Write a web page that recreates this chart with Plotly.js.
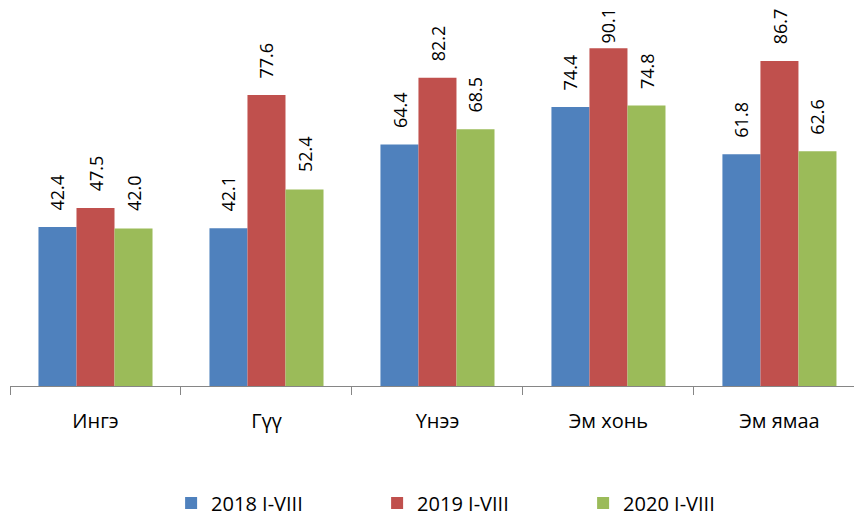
<!DOCTYPE html>
<html><head><meta charset="utf-8">
<script src="https://cdn.plot.ly/plotly-3.0.1.min.js"></script>
<style>html,body{margin:0;padding:0;background:#fff}#c{width:854px;height:518px}</style>
</head><body><div id="c"></div>
<script>
const categories = ["Ингэ", "Гүү", "Үнээ", "Эм хонь", "Эм ямаа"];
const seriesNames = ["2018 I-VIII", "2019 I-VIII", "2020 I-VIII"];
const values2018 = [42.4, 42.1, 64.4, 74.4, 61.8];
const values2019 = [47.5, 77.6, 82.2, 90.1, 86.7];
const values2020 = [42.0, 52.4, 68.5, 74.8, 62.6];
const colors = ["#4F81BD", "#C0504D", "#9BBB59"];
const font = "Open Sans, Liberation Sans, Arial, sans-serif";

const allValues = [values2018, values2019, values2020];
const traces = allValues.map((v, i) => ({
  type: "bar",
  name: seriesNames[i],
  x: categories,
  y: v,
  marker: {color: colors[i]},
  hoverinfo: "none"
}));

const H = 518, mT = 11, mB = 132, yMax = 100;
const plotH = H - mT - mB;
const pxPerUnit = plotH / yMax;
const labelLen = 35, gap = 15, minTop = 10;
const bargap = 0.333;
const barW = (1 - bargap) / 3;
const annotations = [];
allValues.forEach((v, i) => {
  v.forEach((d, j) => {
    // keep the label inside the chart: clamp its top edge
    const barTop = mT + (yMax - d) * pxPerUnit;
    let shift = gap;
    if (barTop - gap - labelLen < minTop) shift = Math.max(3, barTop - labelLen - minTop);
    annotations.push({
      x: j + (i - 1) * barW, y: d, xref: "x", yref: "y",
      text: d.toFixed(1), showarrow: false, textangle: -90,
      xanchor: "center", yanchor: "bottom", yshift: shift,
      font: {family: font, size: 18, color: "#000"}
    });
  });
});

const layout = {
  width: 854, height: H,
  margin: {l: 10, r: 0, t: mT, b: mB, autoexpand: false},
  paper_bgcolor: "#fff", plot_bgcolor: "#fff",
  barmode: "group", bargap: bargap, bargroupgap: 0,
  showlegend: true,
  legend: {orientation: "h", x: 0.557, xanchor: "center", y: -0.312, yanchor: "middle",
    font: {family: font, size: 20, color: "#000"}, entrywidth: 161, itemwidth: 30, traceorder: "normal"},
  annotations: annotations,
  xaxis: {type: "category", range: [-0.5, 4.436], showline: true, linecolor: "#868686", linewidth: 1,
    ticks: "outside", tickson: "boundaries", ticklen: 8, tickcolor: "#868686", tickwidth: 1,
    ticklabelstandoff: 17,
    tickfont: {family: font, size: 20, color: "#000"}, showgrid: false, zeroline: false, fixedrange: true},
  yaxis: {range: [0, yMax], visible: false, showgrid: false, zeroline: false, fixedrange: true}
};
Plotly.newPlot("c", traces, layout, {displayModeBar: false, staticPlot: true});
</script></body></html>
